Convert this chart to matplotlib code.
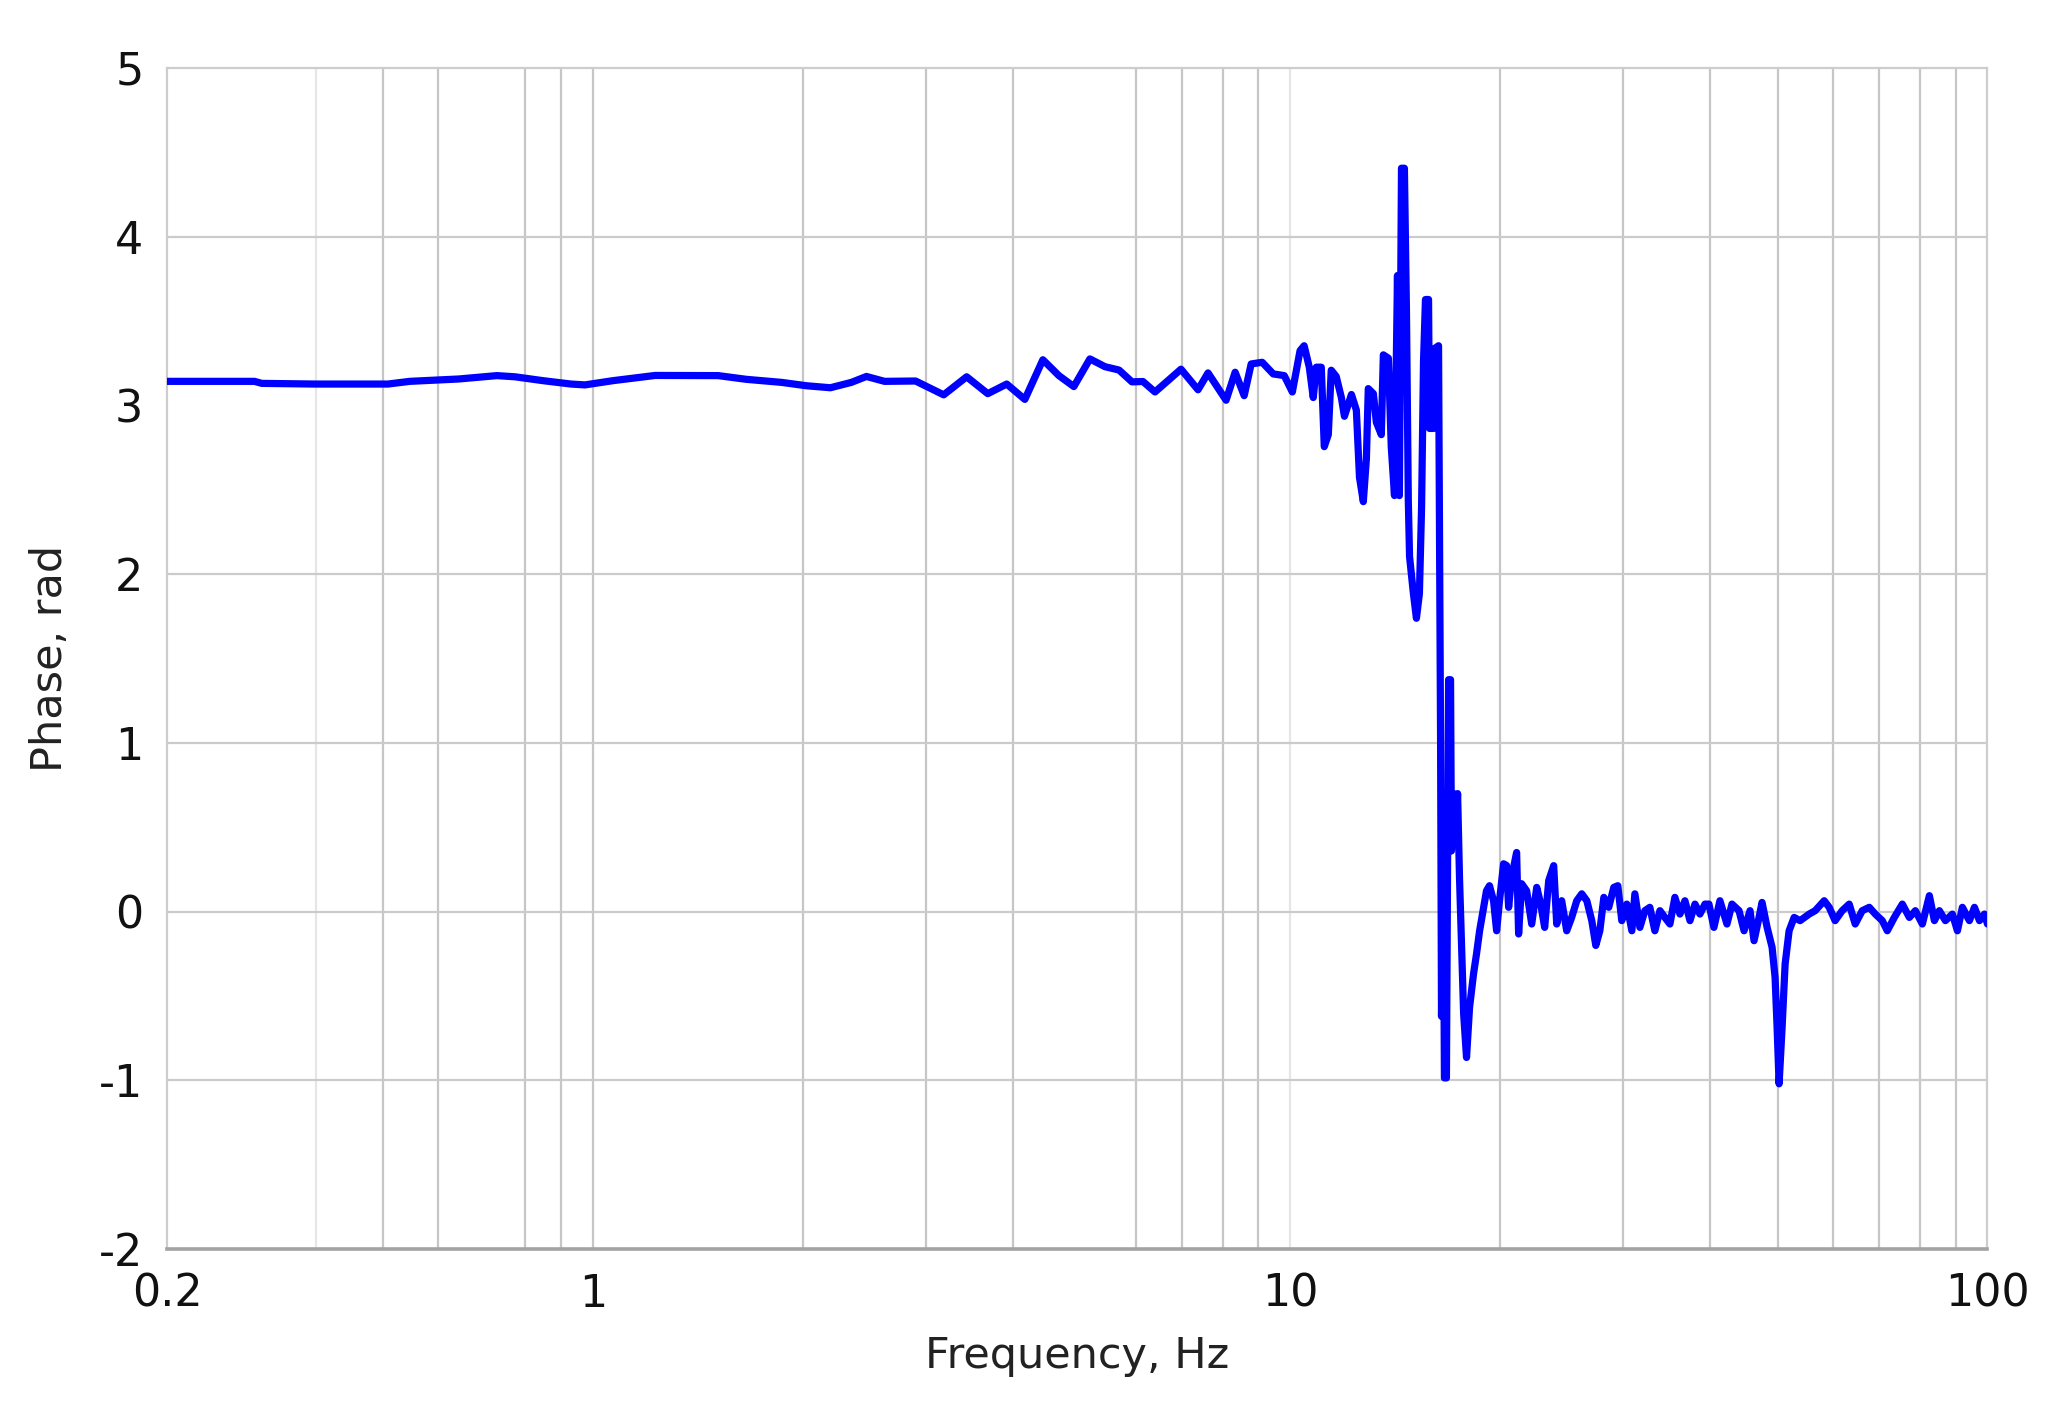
import matplotlib
matplotlib.use('Agg')
import matplotlib.pyplot as plt

# phase response (Hz, rad)
freq = [0.245, 0.327, 0.335, 0.400, 0.508, 0.546, 0.642, 0.728, 0.773, 0.848,
        0.930, 0.974, 1.068, 1.228, 1.512, 1.659, 1.863, 2.023, 2.190, 2.348,
        2.467, 2.619, 2.902, 3.184, 3.435, 3.683, 3.921, 4.163, 4.418, 4.658,
        4.894, 5.160, 5.423, 5.681, 5.929, 6.149, 6.398, 6.972, 7.375, 7.623,
        8.091, 8.337, 8.589, 8.790, 9.116, 9.454, 9.804, 10.07, 10.33, 10.47,
        10.65, 10.79, 10.90, 11.08, 11.19, 11.34, 11.45, 11.64, 11.84, 11.96,
        12.24, 12.44, 12.57, 12.73, 12.86, 12.94, 13.16, 13.29, 13.51, 13.60,
        13.83, 13.96, 14.11, 14.25, 14.34, 14.44, 14.58, 14.68, 14.77, 14.83,
        15.02, 15.17, 15.32, 15.43, 15.53, 15.63, 15.79, 15.84, 16.05, 16.10,
        16.32, 16.37, 16.43, 16.48, 16.59, 16.64, 16.75, 16.87, 16.98, 17.03,
        17.15, 17.26, 17.38, 17.49, 17.73, 17.90, 18.08, 18.32, 18.50, 18.69,
        18.94, 19.12, 19.31, 19.57, 19.77, 19.96, 20.23, 20.43, 20.57, 20.77,
        21.12, 21.26, 21.47, 21.83, 22.20, 22.57, 22.87, 23.17, 23.48, 23.87,
        24.11, 24.51, 24.92, 25.33, 25.76, 26.19, 26.63, 27.07, 27.43, 27.80,
        28.17, 28.63, 29.11, 29.50, 29.89, 30.39, 30.90, 31.21, 31.73, 32.26,
        32.79, 33.34, 33.90, 34.46, 35.04, 35.62, 36.22, 36.82, 37.44, 38.06,
        38.69, 39.34, 39.86, 40.52, 41.33, 42.30, 43.01, 44.02, 44.76, 45.65,
        46.26, 47.03, 47.50, 48.30, 49.10, 49.59, 49.92, 50.25, 50.75, 51.26,
        51.94, 52.81, 53.86, 55.50, 56.61, 58.32, 59.29, 60.46, 61.89, 63.34,
        64.61, 66.13, 67.68, 69.04, 70.65, 71.83, 73.52, 75.49, 77.26, 78.81,
        80.65, 82.54, 83.92, 85.31, 87.03, 89.06, 90.55, 92.05, 94.21, 95.79,
        97.39, 99.01, 100.0]
phase = [3.143, 3.143, 3.131, 3.127, 3.127, 3.143, 3.157, 3.177, 3.170, 3.147,
         3.127, 3.122, 3.147, 3.178, 3.177, 3.155, 3.137, 3.117, 3.105, 3.137,
         3.172, 3.143, 3.145, 3.063, 3.170, 3.070, 3.127, 3.036, 3.271, 3.177,
         3.112, 3.276, 3.230, 3.210, 3.140, 3.142, 3.080, 3.215, 3.093, 3.193,
         3.031, 3.197, 3.058, 3.246, 3.256, 3.187, 3.177, 3.080, 3.325, 3.354,
         3.227, 3.047, 3.227, 3.227, 2.756, 2.827, 3.209, 3.172, 3.047, 2.936,
         3.065, 2.973, 2.574, 2.430, 2.685, 3.100, 3.070, 2.900, 2.827, 3.300,
         3.280, 2.756, 2.466, 3.770, 2.466, 4.406, 4.406, 3.553, 2.430, 2.104,
         1.885, 1.739, 1.885, 2.392, 3.263, 3.628, 3.628, 2.864, 2.864, 3.337,
         3.354, 2.320, 1.013, -0.620, 0.050, -0.985, -0.985, 1.375, 1.375, 0.360,
         0.700, 0.400, 0.700, 0.200, -0.606, -0.864, -0.567, -0.368, -0.250, -0.113,
         0.026, 0.124, 0.154, 0.065, -0.113, 0.065, 0.284, 0.274, 0.026, 0.203,
         0.351, -0.132, 0.166, 0.124, -0.073, 0.144, 0.045, -0.093, 0.184, 0.273,
         -0.073, 0.065, -0.113, -0.034, 0.065, 0.106, 0.065, -0.053, -0.200, -0.113,
         0.085, 0.026, 0.144, 0.154, -0.053, 0.045, -0.113, 0.106, -0.093, 0.006,
         0.026, -0.113, 0.006, -0.034, -0.073, 0.085, -0.014, 0.065, -0.053, 0.045,
         -0.014, 0.045, 0.045, -0.093, 0.065, -0.073, 0.045, 0.006, -0.113, 0.006,
         -0.172, -0.034, 0.055, -0.093, -0.211, -0.390, -0.687, -1.020, -0.687, -0.310,
         -0.113, -0.034, -0.053, -0.014, 0.006, 0.065, 0.026, -0.053, 0.006, 0.045,
         -0.073, 0.006, 0.026, -0.014, -0.053, -0.113, -0.034, 0.045, -0.034, 0.006,
         -0.073, 0.095, -0.053, 0.006, -0.053, -0.014, -0.113, 0.026, -0.053, 0.026,
         -0.053, -0.014, -0.073]

y_ticks = [-2, -1, 0, 1, 2, 3, 4, 5]
x_major = [1, 10, 100]

plt.rcParams['font.family'] = 'DejaVu Sans'
plt.rcParams['axes.unicode_minus'] = False

fig = plt.figure(figsize=(20.5, 14.02), dpi=100)
ax = fig.add_axes([0.0815, 0.109, 0.888, 0.8425])

x_min, x_max = freq[0], 100
ax.set_xscale('log')
ax.set_xlim(x_min, x_max)
ax.set_ylim(-2, 5)

# grid lines as they show in the picture
grid_x = [0.4, 0.5, 0.6, 0.8, 0.9, 1, 2, 3, 4, 6, 7, 8, 9, 10,
          20, 30, 40, 50, 60, 70, 80, 90]
for gx in grid_x:
    col = '#e6e6e6' if gx in (0.4, 10) else '#c6c6c6'
    ax.axvline(gx, color=col, lw=1.6, zorder=0)
for gy in [-1, 0, 1, 2, 4]:
    ax.axhline(gy, color='#cbcbcb', lw=1.6, zorder=0)

ax.plot(freq, phase, color='#0000ff', lw=5.2, solid_joinstyle='round',
        solid_capstyle='round', zorder=3)

for side in ['left', 'top', 'right']:
    ax.spines[side].set_color('#cdcdcd')
    ax.spines[side].set_linewidth(1.6)
ax.spines['bottom'].set_color('#a3a3a3')
ax.spines['bottom'].set_linewidth(2.6)

ax.set_xticks([x_min] + x_major)
ax.set_xticklabels([f'{x_min:.1g}'] + [str(v) for v in x_major])
ax.xaxis.set_minor_locator(matplotlib.ticker.NullLocator())
ax.set_yticks(y_ticks)
ax.set_yticklabels([str(v) for v in y_ticks])
ax.tick_params(axis='both', length=0, labelsize=32, pad=17, labelcolor='#111111')

ax.set_xlabel('Frequency, Hz', fontsize=31, labelpad=14, color='#222222')
ax.set_ylabel('Phase, rad', fontsize=31, labelpad=20, color='#222222')

fig.savefig('out.png', dpi=100, facecolor='white')
